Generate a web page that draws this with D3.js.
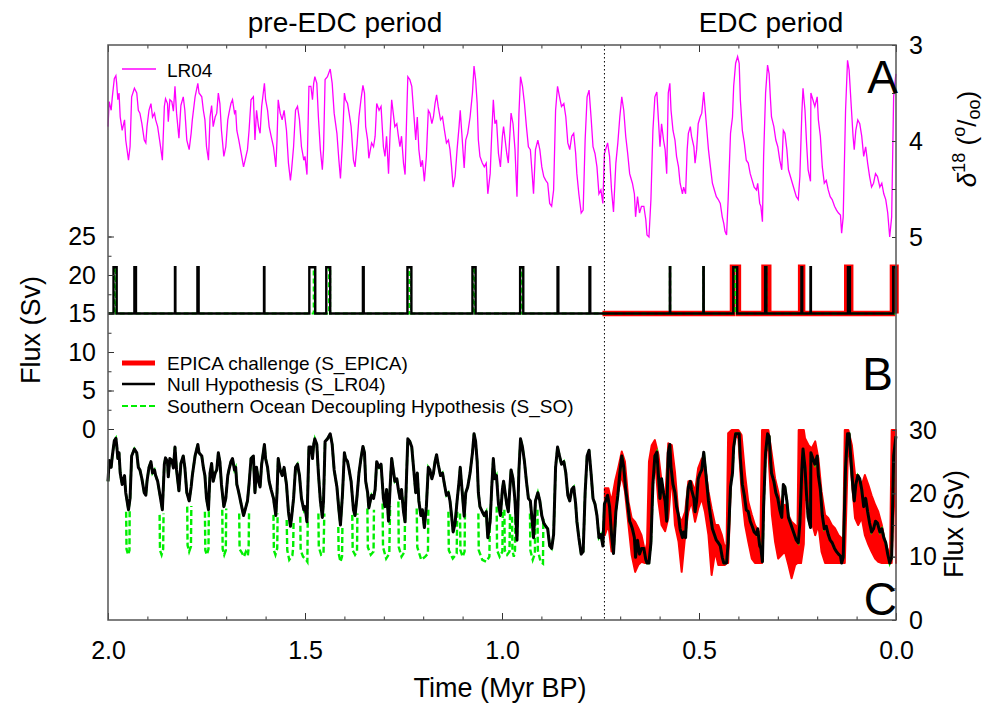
<!DOCTYPE html>
<html>
<head>
<meta charset="utf-8">
<script src="https://cdn.jsdelivr.net/npm/d3@7"></script>
<style>
  body { margin: 0; background: #fff; }
  text { font-family: "Liberation Sans", Arial, Helvetica, sans-serif; }
</style>
</head>
<body>
<div id="chart"></div>
<script>
// ---- data (ages in kyr BP) ----
// LR04 benthic d18O stack
const lr04Age = [
  2000,1997,1992,1989,1984,1980,1978,1975,1972,1969,
  1964,1958,1955,1948,1944,1940,1933,1927,1923,1919,
  1914,1908,1904,1901,1896,1891,1887,1882,1879,1874,
  1868,1862,1857,1854,1849,1847,1843,1838,1834,1830,
  1826,1820,1815,1809,1805,1800,1794,1789,1786,1779,
  1772,1769,1762,1758,1754,1750,1745,1741,1737,1733,
  1728,1724,1720,1716,1712,1706,1701,1696,1693,1688,
  1684,1679,1676,1673,1668,1662,1656,1652,1646,1642,
  1637,1631,1627,1623,1618,1614,1610,1603,1600,1595,
  1591,1586,1580,1574,1571,1568,1563,1558,1553,1547,
  1542,1537,1534,1529,1524,1519,1514,1509,1503,1500,
  1495,1490,1485,1481,1478,1475,1470,1466,1461,1456,
  1453,1449,1443,1436,1431,1426,1419,1414,1410,1405,
  1400,1397,1392,1388,1383,1377,1373,1368,1363,1358,
  1353,1349,1346,1341,1338,1335,1331,1326,1322,1318,
  1312,1307,1301,1297,1293,1288,1284,1280,1276,1272,
  1267,1263,1259,1255,1250,1246,1242,1239,1234,1229,
  1224,1219,1215,1211,1206,1202,1197,1192,1187,1183,
  1178,1174,1170,1166,1162,1156,1151,1146,1141,1136,
  1132,1128,1124,1119,1114,1109,1106,1102,1096,1092,
  1087,1081,1075,1071,1067,1063,1060,1056,1050,1045,
  1040,1036,1030,1026,1022,1018,1014,1009,1004,999,
  996,992,988,984,977,972,967,962,957,953,
  948,943,938,933,928,923,920,915,909,904,
  899,894,889,884,879,874,869,864,859,854,
  849,843,838,833,828,823,818,813,810,805,
  799,794,789,784,779,774,769,764,759,754,
  749,744,740,737,732,727,722,717,711,706,
  701,696,691,686,681,676,674,669,664,661,
  656,651,646,640,635,632,627,622,617,612,
  607,603,599,595,590,586,582,578,574,571,
  566,561,557,552,548,542,539,534,530,527,
  522,519,513,510,506,502,497,493,488,485,
  480,476,471,466,461,456,451,446,441,437,
  434,430,426,420,415,412,407,402,398,395,
  390,385,380,375,370,365,360,354,351,346,
  343,339,336,331,326,322,319,316,310,305,
  300,295,290,286,282,277,273,268,263,258,
  253,248,244,239,236,231,227,223,217,216,
  211,206,200,197,192,187,182,177,172,167,
  162,156,151,146,141,138,134,128,123,119,
  114,109,106,102,97,92,87,82,77,72,
  67,62,57,52,47,41,36,31,26,21,
  16,11,6,1,0
];
const lr04D18O = [
  3.85,3.59,3.68,3.54,3.35,3.32,3.40,3.57,3.50,3.75,
  3.89,3.78,3.99,4.20,4.06,3.54,3.45,3.50,3.68,3.71,
  3.82,3.99,4.02,3.85,3.68,3.61,3.75,3.71,3.78,3.85,
  4.02,4.20,3.64,3.56,3.61,3.80,3.57,3.59,3.69,3.43,
  3.71,3.97,3.63,3.54,3.68,3.99,4.09,3.92,3.78,3.54,
  3.40,3.50,3.54,3.68,3.78,4.06,4.20,3.75,3.63,3.85,
  3.75,3.71,3.50,3.61,3.89,4.16,4.06,3.78,3.71,3.61,
  3.57,3.71,3.68,3.89,3.99,4.13,4.27,4.20,4.09,3.89,
  3.57,3.54,3.99,3.68,3.85,3.92,3.64,3.40,3.57,3.68,
  3.85,3.95,4.06,4.27,3.99,3.57,3.71,3.78,3.68,3.89,
  4.23,4.41,4.30,4.06,3.68,3.64,3.78,4.06,4.20,4.16,
  4.35,3.43,3.43,3.57,3.40,3.33,3.40,3.75,4.09,4.30,
  4.09,3.36,3.33,3.25,3.40,3.71,3.92,4.20,4.39,4.02,
  3.50,3.57,3.61,3.71,3.85,4.20,4.27,4.04,3.75,3.57,
  3.42,3.50,3.85,3.99,4.18,4.11,4.02,4.06,3.95,3.61,
  3.68,3.64,4.06,4.16,3.95,4.34,3.92,3.57,3.71,3.85,
  3.82,3.95,4.06,3.95,4.23,4.35,3.75,3.33,3.36,3.43,
  3.71,3.99,3.75,4.09,4.27,4.20,4.42,4.16,3.68,3.71,
  3.82,3.75,3.61,3.52,3.64,3.78,3.75,3.89,4.02,3.99,
  4.09,4.27,4.48,4.37,4.09,3.85,3.68,3.92,4.28,3.99,
  3.92,3.75,3.50,3.22,3.36,3.61,3.99,4.16,4.23,4.27,
  4.23,4.55,4.34,3.92,3.57,3.82,3.78,4.13,4.27,3.95,
  3.85,3.99,4.13,4.23,3.71,3.82,4.09,4.58,3.71,3.33,
  3.43,3.61,3.85,4.06,4.09,4.37,4.55,4.09,3.99,4.09,
  4.27,4.37,4.41,4.44,4.65,4.68,4.51,3.68,3.43,3.54,
  3.64,3.61,3.75,4.02,4.09,3.95,3.92,4.13,4.34,4.55,
  4.75,4.72,3.99,3.54,3.47,3.75,4.06,4.13,4.27,4.55,
  4.51,4.65,4.13,4.09,4.02,4.16,4.51,4.74,4.23,4.02,
  3.75,3.54,3.68,3.95,4.13,4.34,4.37,4.44,4.55,4.79,
  4.58,4.75,4.68,4.68,4.82,4.98,5.00,4.61,3.89,3.54,
  3.49,3.78,4.06,3.82,3.99,4.09,4.34,3.50,3.40,3.68,
  3.89,3.99,4.16,4.27,4.44,4.55,4.48,4.55,4.09,3.92,
  3.85,3.95,4.06,4.23,4.09,3.82,3.75,3.71,3.49,3.64,
  3.89,4.09,4.27,4.44,4.51,4.58,4.61,4.65,4.79,4.86,
  4.94,4.98,4.61,3.92,3.75,3.43,3.19,3.12,3.19,3.57,
  3.89,4.02,4.20,4.23,4.34,4.41,4.48,4.51,4.44,4.65,
  4.68,4.84,4.16,3.50,3.21,3.30,3.54,3.75,3.85,3.99,
  4.06,4.20,4.30,3.89,3.92,4.09,4.30,4.37,4.44,4.51,
  4.58,4.61,4.37,3.71,3.45,3.68,4.02,4.30,4.42,3.50,
  3.57,3.64,3.54,3.78,3.95,4.27,4.44,4.41,4.51,4.58,
  4.61,4.68,4.72,4.75,4.77,4.96,4.79,3.68,3.16,3.26,
  3.61,3.95,4.09,3.89,3.78,3.82,3.95,4.16,4.06,4.23,
  4.37,4.48,4.44,4.34,4.37,4.48,4.44,4.55,4.61,4.75,
  5.00,4.79,3.54,3.33,3.30
];
// Null hypothesis flux S_LR04 (Sv), panel C black, same ages as lr04Age
const nullFlux = [
  21.9,25.2,24.1,25.9,28.3,28.7,27.7,25.5,26.4,23.2,
  21.4,22.8,20.1,17.4,19.2,25.9,27.0,26.4,24.1,23.7,
  22.3,20.1,19.7,21.9,24.1,25.0,23.2,23.7,22.8,21.9,
  19.7,17.4,24.6,25.6,25.0,22.6,25.5,25.2,24.0,27.3,
  23.7,20.4,24.7,25.9,24.1,20.1,18.8,21.0,22.8,25.9,
  27.7,26.4,25.9,24.1,22.8,19.2,17.4,23.2,24.7,21.9,
  23.2,23.7,26.4,25.0,21.4,17.9,19.2,22.8,23.7,25.0,
  25.5,23.7,24.1,21.4,20.1,18.3,16.5,17.4,18.8,21.4,
  25.5,25.9,20.1,24.1,21.9,21.0,24.6,27.7,25.5,24.1,
  21.9,20.6,19.2,16.5,20.1,25.5,23.7,22.8,24.1,21.4,
  17.1,14.8,16.2,19.2,24.1,24.6,22.8,19.2,17.4,17.9,
  15.5,27.3,27.3,25.5,27.7,28.6,27.7,23.2,18.8,16.2,
  18.8,28.2,28.6,29.4,27.7,23.7,21.0,17.4,15.0,19.7,
  26.4,25.5,25.0,23.7,21.9,17.4,16.5,19.5,23.2,25.5,
  27.4,26.4,21.9,20.1,17.7,18.6,19.7,19.2,20.6,25.0,
  24.1,24.6,19.2,17.9,20.6,15.6,21.0,25.5,23.7,21.9,
  22.3,20.6,19.2,20.6,17.1,15.5,23.2,28.6,28.2,27.3,
  23.7,20.1,23.2,18.8,16.5,17.4,14.6,17.9,24.1,23.7,
  22.3,23.2,25.0,26.1,24.6,22.8,23.2,21.4,19.7,20.1,
  18.8,16.5,13.9,15.3,18.8,21.9,24.1,21.0,16.4,20.1,
  21.0,23.2,26.4,29.4,28.2,25.0,20.1,17.9,17.1,16.5,
  17.1,13.0,15.6,21.0,25.5,22.3,22.8,18.3,16.5,20.6,
  21.9,20.1,18.3,17.1,23.7,22.3,18.8,12.6,23.7,28.6,
  27.3,25.0,21.9,19.2,18.8,15.3,13.0,18.8,20.1,18.8,
  16.5,15.3,14.8,14.4,11.7,11.3,13.5,24.1,27.3,25.9,
  24.6,25.0,23.2,19.7,18.8,20.6,21.0,18.3,15.6,13.0,
  10.4,10.8,20.1,25.9,26.8,23.2,19.2,18.3,16.5,13.0,
  13.5,11.7,18.3,18.8,19.7,17.9,13.5,10.5,17.1,19.7,
  23.2,25.9,24.1,20.6,18.3,15.6,15.3,14.4,13.0,9.9,
  12.6,10.4,11.3,11.3,9.5,9.0,9.0,12.2,21.4,25.9,
  26.5,22.8,19.2,22.3,20.1,18.8,15.6,26.4,27.7,24.1,
  21.4,20.1,17.9,16.5,14.4,13.0,13.9,13.0,18.8,21.0,
  21.9,20.6,19.2,17.1,18.8,22.3,23.2,23.7,26.5,24.6,
  21.4,18.8,16.5,14.4,13.5,12.6,12.2,11.7,9.9,9.0,
  9.0,9.0,12.2,21.0,23.2,27.3,29.4,29.4,29.4,25.5,
  21.4,19.7,17.4,17.1,15.6,14.8,13.9,13.5,14.4,11.7,
  11.3,9.2,17.9,26.4,29.4,29.0,25.9,23.2,21.9,20.1,
  19.2,17.4,16.2,21.4,21.0,18.8,16.2,15.3,14.4,13.5,
  12.6,12.2,15.3,23.7,27.0,24.1,19.7,16.2,14.6,26.4,
  25.5,24.6,25.9,22.8,20.6,16.5,14.4,14.8,13.5,12.6,
  12.2,11.3,10.8,10.4,10.1,9.0,9.9,24.1,29.4,29.4,
  25.0,20.6,18.8,21.4,22.8,22.3,20.6,17.9,19.2,17.1,
  15.3,13.9,14.4,15.6,15.3,13.9,14.4,13.0,12.2,10.4,
  9.0,9.9,25.9,28.6,29.0
];
// Southern Ocean decoupling (S_SO): excursions below S_LR04, panel C green
const soDips = [
  [[1954,17.1],[1953,11.2],[1949,10.3],[1945.5,11.0],[1945,17.4]],
  [[1869,16.6],[1868,11.0],[1864,10.3],[1860,11.2],[1859,16.8]],
  [[1799,17.9],[1798,11.8],[1794,10.8],[1789.5,11.6],[1788.5,18.0]],
  [[1754,17.1],[1753,11.0],[1749,10.3],[1745,11.2],[1744,17.4]],
  [[1710,17.4],[1709,11.2],[1705,10.3],[1701,11.0],[1700,17.6]],
  [[1667,16.8],[1666,11.2],[1660,10.6],[1655,10.0],[1650,10.8],[1645,10.2],[1643,11.5],[1642,17.0]],
  [[1580,16.6],[1579,11.0],[1575,10.3],[1570.5,11.3],[1569.5,16.8]],
  [[1546.5,15.8],[1545,11.0],[1540,9.5],[1532,10.2],[1530,11.5],[1529,15.6]],
  [[1512,16.3],[1511,11.0],[1505,10.0],[1497,9.5],[1494,9.2],[1493,16.0]],
  [[1466,16.8],[1465,11.5],[1459,10.3],[1453,10.5],[1451,16.8]],
  [[1415.5,14.7],[1414.5,10.5],[1410,9.2],[1406,10.0],[1405,15.0]],
  [[1380,16.6],[1379,11.0],[1373,10.3],[1368,10.8],[1367,16.8]],
  [[1341.7,17.6],[1340.5,11.5],[1333,10.3],[1326,10.8],[1325,17.4]],
  [[1303,18.4],[1302,11.5],[1294,9.7],[1286,10.5],[1284,18.0]],
  [[1263,18.7],[1262,11.5],[1255,10.0],[1247,10.8],[1246,17.9]],
  [[1216.5,17.6],[1215,11.5],[1205,9.5],[1195,10.0],[1188,10.5],[1187,17.4]],
  [[1136,17.1],[1135,11.0],[1125,9.7],[1115,10.5],[1113.5,17.4]],
  [[1106.5,16.8],[1105.5,11.0],[1100,10.0],[1095,10.8],[1094,16.8]],
  [[1060,16.8],[1059,11.0],[1050,9.5],[1040,9.2],[1032,10.0],[1030.5,16.6]],
  [[1013.5,17.9],[1012.5,11.0],[1006,10.0],[999,10.8],[998,17.4]],
  [[994,17.4],[993,11.0],[987,10.3],[981,10.8],[979.5,17.1]],
  [[974.5,16.3],[973.5,11.0],[970,10.0],[967,11.0],[966,16.3]],
  [[929,16.8],[928,11.0],[922,9.5],[916.5,10.5],[915.5,16.6]],
  [[910,17.4],[909,11.0],[902,9.2],[896,8.9],[895,16.0]]
];
// EPICA challenge (S_EPICA) spread, panel C red
const epicaAge = [
  739,730,722,713,705,696,688,679,671,662,
  654,646,637,632,627,620,612,603,595,586,
  578,569,561,552,544,535,527,519,510,502,
  493,485,476,468,459,451,442,434,430,426,
  417,409,400,392,383,375,366,358,349,344,
  340,333,324,315,307,299,290,282,273,265,
  256,250,247,241,234,231,222,214,205,197,
  189,180,172,163,155,146,138,134,130,121,
  112,104,96,87,79,70,62,53,45,36,
  28,19,15,11,3,0
];
const epicaHigh = [
  20.8,20.8,18.7,21.9,24.0,26.6,25.0,18.7,16.1,15.5,
  14.5,13.4,10.8,12.0,25.0,27.6,28.4,26.1,21.9,18.7,
  27.9,27.6,23.4,16.6,15.5,17.1,21.9,21.9,20.3,24.0,
  25.5,24.5,20.3,17.6,15.0,15.0,13.4,11.3,12.0,29.5,
  30,30,30,29.2,22.9,18.7,16.6,15.0,14.0,13.5,
  30,30,30,26.1,22.4,20.3,17.1,18.2,16.6,15.5,
  15.0,14.5,30,30,30,28.7,27.6,27.1,28.2,25.5,
  20.3,16.6,16.1,15.0,14.5,13.4,12.9,12.5,30,30,
  27.6,22.9,22.9,21.3,22.9,21.3,19.7,18.2,17.1,15.0,
  12.4,10.8,10.0,30,30,30
];
const epicaLow = [
  13.4,15.0,10.8,17.1,20.3,22.9,20.3,15.0,10.3,7.6,
  8.7,9.2,9.0,9.0,9.0,20.3,25.5,18.7,15.0,14.0,
  16.1,22.9,15.0,12.4,7.6,13.4,17.1,18.7,15.5,17.6,
  19.2,17.1,13.4,7.1,10.8,8.7,8.7,8.7,9.0,9.0,
  25.5,29.2,28.7,20.3,15.0,12.4,9.7,9.0,9.0,9.0,
  9.0,28.7,26.6,16.6,12.4,9.7,10.3,10.8,8.7,6.6,
  8.7,9.0,9.0,9.0,12.0,20.3,17.6,15.5,13.4,15.0,
  10.8,9.0,9.0,9.0,9.0,9.0,9.0,9.0,9.0,28.7,
  21.9,16.1,15.0,16.1,13.4,11.9,10.8,9.7,9.2,9.0,
  9.0,9.0,9.0,9.0,25.5,9.0
];
// Panel B forcing steps: [start, end] of each pulse (kyr BP)
const stepLevels = [15, 21];
const lr04Pulses = [[1986,1978],[1933,1929],[1830,1829],[1773,1770],[1604,1603],[1489,1474],[1446,1436],
  [1353,1351],[1240,1230],[1075,1067],[954,946],[859,857],[778,776],[574,573],[489,488],[413,403],
  [332,329],[240,238],[217,216],[122,117],[7,0]];
const soPulses = [[1983,1980],[1478,1475],[1439,1436],[1235,1231],[1073,1069],[952,948],
  [574,573],[489,488],[408,404],[331,329],[120,118]];
const epicaPulses = [[415,400],[335,323],[242,237],[125,115],[9,0]];
const epicaStart = 745;
const edcStart = 740;

// ticks and labels
const xMajor = [2000, 1500, 1000, 500, 0];
const xTickLabels = ["2.0", "1.5", "1.0", "0.5", "0.0"];
const bTicks = [0, 5, 10, 15, 20, 25];
const aTicks = [3, 4, 5];
const cTicks = [0, 10, 20, 30];

// ---- layout ----
const width = 986, height = 705;
const FONT = '"Liberation Sans", Arial, Helvetica, sans-serif';
const plotL = 108, plotR = 896, plotT = 45, plotB = 620;

const svg = d3.select("#chart").append("svg")
    .attr("width", width)
    .attr("height", height);

const x = d3.scaleLinear().domain([2000, 0]).range([plotL, plotR]);
const yA = d3.scaleLinear().domain([3, 5]).range([45, 237]);
const yB = d3.scaleLinear().domain([0, 25]).range([429, 236.5]);
const yC = d3.scaleLinear().domain([0, 30]).range([620, 430]);

// ---- panel C ----
const band = epicaAge.map((a, i) => [a, epicaHigh[i], epicaLow[i]]);
svg.append("path")
    .attr("d", d3.area().x(d => x(d[0])).y0(d => yC(d[2])).y1(d => yC(d[1]))(band))
    .attr("fill", "#ff0000")
    .attr("stroke", "#ff0000")
    .attr("stroke-width", 2)
    .attr("stroke-linejoin", "round");

const nullPts = lr04Age.map((a, i) => [a, nullFlux[i]]);
const lineC = d3.line().x(d => x(d[0])).y(d => yC(d[1]));

// S_SO follows S_LR04 (hidden below it) except in the dips
svg.append("path")
    .attr("d", lineC(nullPts))
    .attr("fill", "none")
    .attr("stroke", "#00ee00")
    .attr("stroke-width", 2.4)
    .attr("stroke-dasharray", "6,3");

svg.append("g").selectAll("path")
    .data(soDips)
    .enter().append("path")
    .attr("d", d => lineC(d))
    .attr("fill", "none")
    .attr("stroke", "#00ee00")
    .attr("stroke-width", 2.4)
    .attr("stroke-dasharray", "6,3");

svg.append("path")
    .attr("d", lineC(nullPts))
    .attr("fill", "none")
    .attr("stroke", "#000")
    .attr("stroke-width", 3)
    .attr("stroke-linejoin", "round");

// ---- panel B ----
function stepPoints(pulses, from, to) {
  const pts = [[from, stepLevels[0]]];
  pulses.forEach(p => {
    pts.push([p[0], stepLevels[0]], [p[0], stepLevels[1]], [p[1], stepLevels[1]], [p[1], stepLevels[0]]);
  });
  pts.push([to, stepLevels[0]]);
  return pts;
}
const lineB = d3.line().x(d => x(d[0])).y(d => yB(d[1]));

svg.append("path")
    .attr("d", lineB(stepPoints(epicaPulses, epicaStart, 0)))
    .attr("fill", "none")
    .attr("stroke", "#ff0000")
    .attr("stroke-width", 5.5);

svg.append("path")
    .attr("d", lineB(stepPoints(soPulses, 2000, 0)))
    .attr("fill", "none")
    .attr("stroke", "#00ee00")
    .attr("stroke-width", 2)
    .attr("stroke-dasharray", "5,3");

svg.append("path")
    .attr("d", lineB(stepPoints(lr04Pulses, 2000, 0)))
    .attr("fill", "none")
    .attr("stroke", "#000")
    .attr("stroke-width", 2.4);

// ---- panel A ----
svg.append("path")
    .attr("d", d3.line().x((d, i) => x(lr04Age[i])).y(d => yA(d))(lr04D18O))
    .attr("fill", "none")
    .attr("stroke", "#ff00ff")
    .attr("stroke-width", 1.3);

// EDC boundary
svg.append("line")
    .attr("x1", x(edcStart)).attr("x2", x(edcStart))
    .attr("y1", plotT).attr("y2", plotB)
    .attr("stroke", "#000")
    .attr("stroke-width", 1)
    .attr("stroke-dasharray", "1.5,2.5");

// ---- axes ----
function styleAxis(g) {
  g.select(".domain").remove();
  g.selectAll(".tick line").attr("stroke", "#333");
  g.selectAll(".tick text")
      .attr("fill", "#000")
      .style("font-family", FONT)
      .style("font-size", "25px");
}

const xMinor = d3.range(0, 2001, 100);
svg.append("g").attr("transform", `translate(0,${plotB})`)
    .call(d3.axisBottom(x).tickValues(xMinor).tickSize(-3.5).tickFormat(""))
    .call(styleAxis);
svg.append("g").attr("transform", `translate(0,${plotB})`)
    .call(d3.axisBottom(x).tickValues(xMajor).tickSize(-7).tickPadding(21)
      .tickFormat((d, i) => xTickLabels[i]))
    .call(styleAxis);
svg.append("g").attr("transform", `translate(0,${plotT})`)
    .call(d3.axisTop(x).tickValues(xMinor).tickSize(-3.5).tickFormat(""))
    .call(styleAxis);
svg.append("g").attr("transform", `translate(0,${plotT})`)
    .call(d3.axisTop(x).tickValues(xMajor).tickSize(-7).tickFormat(""))
    .call(styleAxis);

svg.append("g").attr("transform", `translate(${plotL},0)`)
    .call(d3.axisLeft(yB).tickValues(d3.range(0, 25.1, 2.5)).tickSize(-3.5).tickFormat(""))
    .call(styleAxis);
svg.append("g").attr("transform", `translate(${plotL},0)`)
    .call(d3.axisLeft(yB).tickValues(bTicks).tickSize(-6).tickPadding(12).tickFormat(d3.format("d")))
    .call(styleAxis);

svg.append("g").attr("transform", `translate(${plotR},0)`)
    .call(d3.axisRight(yA).tickValues([3, 3.5, 4, 4.5, 5]).tickSize(-4).tickFormat(""))
    .call(styleAxis);
svg.append("g").attr("transform", `translate(${plotR},0)`)
    .call(d3.axisRight(yA).tickValues(aTicks).tickSize(-4).tickPadding(13).tickFormat(d3.format("d")))
    .call(styleAxis);
svg.append("g").attr("transform", `translate(${plotR},0)`)
    .call(d3.axisRight(yC).tickValues(d3.range(0, 31, 5)).tickSize(-3.5).tickFormat(""))
    .call(styleAxis);
svg.append("g").attr("transform", `translate(${plotR},0)`)
    .call(d3.axisRight(yC).tickValues(cTicks).tickSize(-4).tickPadding(13).tickFormat(d3.format("d")))
    .call(styleAxis);

// frame
svg.append("rect")
    .attr("x", plotL).attr("y", plotT)
    .attr("width", plotR - plotL).attr("height", plotB - plotT)
    .attr("fill", "none")
    .attr("stroke", "#555")
    .attr("stroke-width", 1.5);

// ---- panel letters ----
[["A", 898, 93], ["B", 893, 390], ["C", 897, 615]].forEach(p => {
  svg.append("text")
      .attr("x", p[1]).attr("y", p[2])
      .attr("text-anchor", "end")
      .style("font-size", "46px")
      .text(p[0]);
});

// ---- titles ----
svg.append("text").attr("x", 345).attr("y", 32).attr("text-anchor", "middle")
    .style("font-size", "28px").text("pre-EDC period");
svg.append("text").attr("x", 771).attr("y", 32).attr("text-anchor", "middle")
    .style("font-size", "28px").text("EDC period");
svg.append("text").attr("x", 500).attr("y", 697).attr("text-anchor", "middle")
    .style("font-size", "27px").text("Time (Myr BP)");
svg.append("text").attr("transform", "translate(40,330) rotate(-90)").attr("text-anchor", "middle")
    .style("font-size", "27px").text("Flux (Sv)");
svg.append("text").attr("transform", "translate(963,524) rotate(-90)").attr("text-anchor", "middle")
    .style("font-size", "27px").text("Flux (Sv)");

const dLab = svg.append("text")
    .attr("transform", "translate(976,139) rotate(-90)")
    .attr("text-anchor", "middle")
    .style("font-size", "26px");
dLab.append("tspan").style("font-style", "italic").text("δ");
dLab.append("tspan").attr("dy", -11).style("font-size", "18px").text("18");
dLab.append("tspan").attr("dy", 11).text(" (");
dLab.append("tspan").attr("dy", -11).style("font-size", "18px").text("o");
dLab.append("tspan").attr("dy", 11).text("/");
dLab.append("tspan").attr("dy", 4).style("font-size", "18px").text("oo");
dLab.append("tspan").attr("dy", -4).text(")");

// ---- legends ----
svg.append("line").attr("x1", 122).attr("x2", 156).attr("y1", 69).attr("y2", 69)
    .attr("stroke", "#ff00ff").attr("stroke-width", 1.3);
svg.append("text").attr("x", 167).attr("y", 77).style("font-size", "19px").text("LR04");

const legendB = [
  { y: 363, color: "#ff0000", w: 5, dash: null, label: "EPICA challenge (S_EPICA)" },
  { y: 384, color: "#000", w: 2.5, dash: null, label: "Null Hypothesis (S_LR04)" },
  { y: 406, color: "#00ee00", w: 2, dash: "6,3", label: "Southern Ocean Decoupling Hypothesis (S_SO)" }
];
legendB.forEach(d => {
  svg.append("line").attr("x1", 122).attr("x2", 155).attr("y1", d.y).attr("y2", d.y)
      .attr("stroke", d.color).attr("stroke-width", d.w)
      .attr("stroke-dasharray", d.dash);
  svg.append("text").attr("x", 167).attr("y", d.y + 7).style("font-size", "19px").text(d.label);
});
</script>
</body>
</html>
